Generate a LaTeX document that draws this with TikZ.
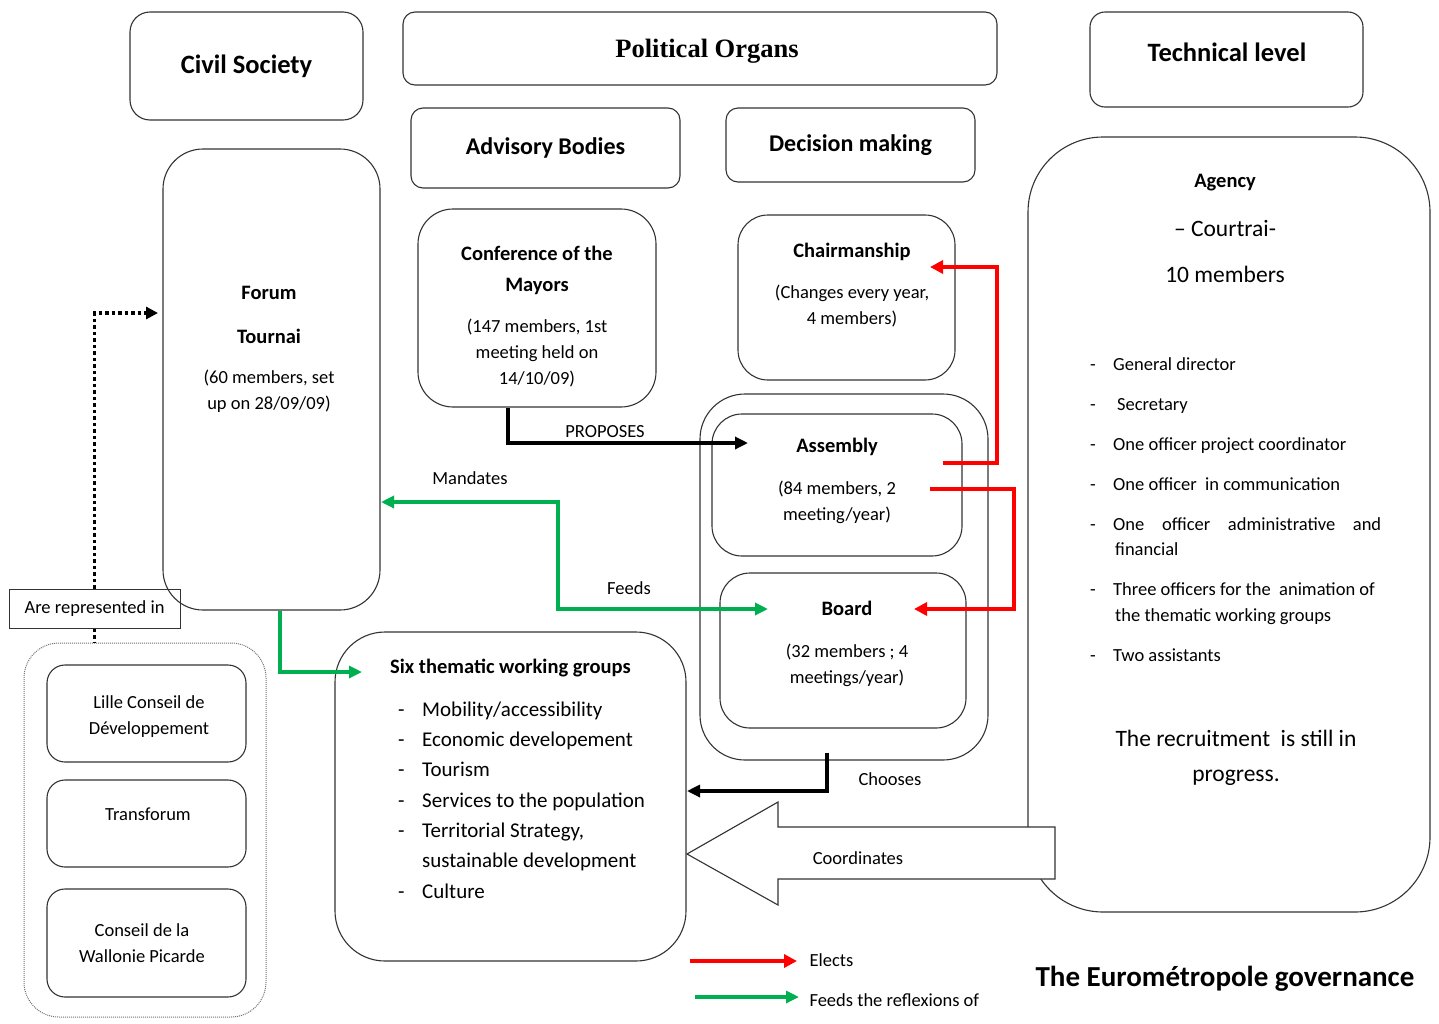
\documentclass[tikz,border=0pt]{standalone}
\usepackage{fontspec}
\setmainfont{Carlito}
\newfontfamily\organfont{Liberation Serif}
\usepackage{xcolor}
\usepackage{tikz}
\usetikzlibrary{positioning,%
  arrows.meta,%
  calc}
\definecolor{elred}{RGB}{255,0,0}
\definecolor{elgreen}{RGB}{0,176,80}

\begin{document}
\begin{tikzpicture}
                    [x=1pt, y=-1pt,
                    box/.style={draw=black!80, line width=1.1pt,
                        rounded corners=#1, inner sep=0pt},
                    box/.default=14pt,
                    big/.style={font=\fontsize{26.5}{30}\selectfont\bfseries},
                    mid/.style={font=\fontsize{24}{28}\selectfont\bfseries},
                    hd/.style={font=\fontsize{20.5}{31}\selectfont\bfseries,
                        align=center, yshift=-1.5pt},
                    sm/.style={font=\fontsize{18.5}{26}\selectfont,
                        align=center, yshift=-1.5pt},
                    lg/.style={font=\fontsize{23.5}{35}\selectfont,
                        align=center},
                    grpitem/.style={font=\fontsize{21}{30}\selectfont,
                        anchor=west, inner sep=0pt, yshift=-4pt,
                        text height=0.72em, text depth=0.22em},
                    agitem/.style={font=\fontsize{18.5}{26}\selectfont,
                        anchor=west, inner sep=0pt, yshift=-4pt,
                        text height=0.72em, text depth=0.22em},
                    elects/.style={draw=elred, line width=3.5pt,
                        -{Triangle[length=13pt,width=13pt]}},
                    feeds/.style={draw=elgreen, line width=3.2pt,
                        -{Triangle[length=13pt,width=12pt]}},
                    link/.style={draw=black, line width=3.2pt,
                        -{Triangle[length=13pt,width=12pt]}},
                    repr/.style={draw=black, line width=3.5pt,
                        dash pattern=on 3.5pt off 3pt,
                        -{Triangle[length=12pt,width=12pt]}}]

                    \useasboundingbox (0,0) rectangle (1439,1023);

                    % column heads
                    \node[box=20pt, big, minimum width=233pt, minimum height=108pt]
                        (civil) at (246.5,66) {Civil Society};
                    \node[box=12pt, minimum width=594pt, minimum height=73pt]
                        (political) at (700,48.5) {};
                    \node[font=\fontsize{26.5}{30}\selectfont\organfont\bfseries]
                        (political-t) at (707,51) {Political Organs};
                    \node[box=15pt, minimum width=273pt, minimum height=95pt]
                        (technical) at (1226.5,59.5) {};
                    \node[big] (technical-t) at (1227,52) {Technical level};
                    \node[box=12pt, mid, minimum width=269pt, minimum height=80pt]
                        (advisory) at (545.5,148) {Advisory Bodies};
                    \node[box=12pt, mid, minimum width=249pt, minimum height=74pt]
                        (decision) at (850.5,145) {Decision making};

                    % civil society
                    \node[box=40pt, minimum width=217pt, minimum height=461pt]
                        (forum) at (271.5,379.5) {};
                    \node[hd, font=\fontsize{20.5}{44}\selectfont\bfseries]
                        (forum-t) at (269,313) {Forum\\Tournai};
                    \node[sm] (forum-d) at (269,389.5)
                        {(60 members, set\\up on 28/09/09)};
                    \node[draw=black!80, line width=1pt, sm, minimum width=171pt,
                        minimum height=39pt, inner sep=0pt, yshift=1.5pt]
                        (represented) at (94.5,608.5) {Are represented in};
                    \node[draw=black!55, line width=1pt, densely dotted,
                        rounded corners=35pt, minimum width=242pt,
                        minimum height=374pt] (councils) at (145,830) {};
                    \node[box=18pt, minimum width=199pt, minimum height=97pt]
                        (lille) at (146.5,713.5) {};
                    \node[sm] (lille-t) at (149,715) {Lille Conseil de\\D\'eveloppement};
                    \node[box=18pt, minimum width=199pt, minimum height=87pt]
                        (transforum) at (146.5,823.5) {};
                    \node[sm] (transforum-t) at (148,813) {Transforum};
                    \node[box=18pt, minimum width=199pt, minimum height=108pt]
                        (wallonie) at (146.5,943) {};
                    \node[sm] (wallonie-t) at (142,942) {Conseil de la\\Wallonie Picarde};

                    % advisory bodies
                    \node[box=35pt, minimum width=238pt, minimum height=198pt]
                        (mayors) at (537,308) {};
                    \node[hd] (mayors-t) at (537,268.5) {Conference of the\\Mayors};
                    \node[sm] (mayors-d) at (537,352)
                        {(147 members, 1st\\meeting held on\\14/10/09)};
                    \node[box=50pt, minimum width=351pt, minimum height=329pt]
                        (groups) at (510.5,796.5) {};
                    \node[hd, anchor=west, inner sep=0pt]
                        (groups-t) at (390,667) {Six thematic working groups};
                    \foreach \y in {710,740,770,801,831,892}
                        \node[grpitem] (gdash-\y) at (398,\y) {-};
                    \node[grpitem] (g1) at (422,710) {Mobility/accessibility};
                    \node[grpitem] (g2) at (422,740) {Economic developement};
                    \node[grpitem] (g3) at (422,770) {Tourism};
                    \node[grpitem] (g4) at (422,801) {Services to the population};
                    \node[grpitem] (g5) at (422,831) {Territorial Strategy,};
                    \node[grpitem] (g6) at (422,861) {sustainable development};
                    \node[grpitem] (g7) at (422,892) {Culture};

                    % decision making
                    \node[box=30pt, minimum width=217pt, minimum height=165pt]
                        (chair) at (846.5,297.5) {};
                    \node[hd] (chair-t) at (852,250) {Chairmanship};
                    \node[sm] (chair-d) at (852,305)
                        {(Changes every year,\\4 members)};
                    \node[box=45pt, minimum width=288pt, minimum height=366pt]
                        (council) at (844,577) {};
                    \node[box=30pt, minimum width=250pt, minimum height=142pt]
                        (assembly) at (837,485) {};
                    \node[hd] (assembly-t) at (837,445) {Assembly};
                    \node[sm] (assembly-d) at (837,500.5)
                        {(84 members, 2\\meeting/year)};
                    \node[box=30pt, minimum width=246pt, minimum height=155pt]
                        (board) at (843,650.5) {};
                    \node[hd] (board-t) at (847,607) {Board};
                    \node[sm] (board-d) at (847,663.5)
                        {(32 members ; 4\\meetings/year)};

                    % technical level
                    \node[box=75pt, minimum width=402pt, minimum height=775pt]
                        (agency) at (1229,524.5) {};
                    \node[hd] (agency-t) at (1225,181) {Agency};
                    \node[lg, font=\fontsize{23.5}{46}\selectfont]
                        (agency-d) at (1225,251) {-- Courtrai-\\10 members};
                    \foreach \y in {364,404,444,484,524,589,655}
                        \node[agitem] (adash-\y) at (1090,\y) {-};
                    \node[agitem] (a1) at (1113,364) {General director};
                    \node[agitem] (a2) at (1117,404) {Secretary};
                    \node[agitem] (a3) at (1113,444) {One officer project coordinator};
                    \node[agitem] (a4) at (1113,484) {One officer\ \ in communication};
                    \node[agitem] (a5) at (1113,524)
                        {\makebox[268pt][s]{One officer administrative and}};
                    \node[agitem] (a6) at (1115,549) {financial};
                    \node[agitem] (a7) at (1113,589) {Three officers for the\ \ animation of};
                    \node[agitem] (a8) at (1115,615) {the thematic working groups};
                    \node[agitem] (a9) at (1113,655) {Two assistants};
                    \node[lg] (agency-r) at (1236,757.5)
                        {The recruitment\ \ is still in\\progress.};

                    % coordinates arrow
                    \draw[draw=black!80, line width=1.1pt, fill=white]
                        (1055,827) -- (778,827) -- (778,802) -- (687,854)
                        -- (778,905) -- (778,879) -- (1055,879) -- cycle;
                    \node[sm] (coord-l) at (858,857) {Coordinates};

                    % free ends of the connectors
                    \coordinate (fdot) at (158,313);
                    \coordinate (gin) at (362,672);
                    \coordinate (mand) at (381,502);
                    \coordinate (fb) at (768,609);
                    \coordinate (prop) at (748,443);
                    \coordinate (el1) at (943,463);
                    \coordinate (chairin) at (930,267);
                    \coordinate (el2) at (930,489);
                    \coordinate (boardin) at (914,609);
                    \coordinate (chin) at (687,791);

                    \draw[repr] (represented.north) |- (fdot);
                    \draw[repr, -] (represented.south)
                        -- (represented.south |- councils.north);
                    \draw[feeds] ([xshift=8.5pt]forum.south) |- (gin);
                    \draw[feeds, {Triangle[length=13pt,width=12pt]}-{Triangle[length=13pt,width=12pt]}]
                        (fb) -- ++(-210,0) |- (mand);
                    \draw[link] ([xshift=-29pt]mayors.south) |- (prop);
                    \draw[elects] (el1) -- ++(54,0) |- (chairin);
                    \draw[elects] (el2) -- ++(84,0) |- (boardin);
                    \draw[link] ([xshift=-17pt,yshift=8pt]council.south) |- (chin);

                    \node[sm] (proposes-l) at (605,430) {PROPOSES};
                    \node[sm] (mandates-l) at (470,477) {Mandates};
                    \node[sm] (feeds-l) at (629,587) {Feeds};
                    \node[sm] (chooses-l) at (890,778) {Chooses};

                    % legend
                    \coordinate (lr1) at (690,961);
                    \coordinate (lr2) at (797,961);
                    \coordinate (lg1) at (695,997);
                    \coordinate (lg2) at (799,997);
                    \draw[elects] (lr1) -- (lr2);
                    \draw[feeds] (lg1) -- (lg2);
                    \node[sm, anchor=west] (elects-l) at (806,959) {Elects};
                    \node[sm, anchor=west] (feeds2-l) at (806,999) {Feeds the reflexions of};
                    \node[font=\fontsize{29}{33}\selectfont\bfseries]
                        (title) at (1225,979) {The Eurom\'etropole governance};
                \end{tikzpicture}
\end{document}
